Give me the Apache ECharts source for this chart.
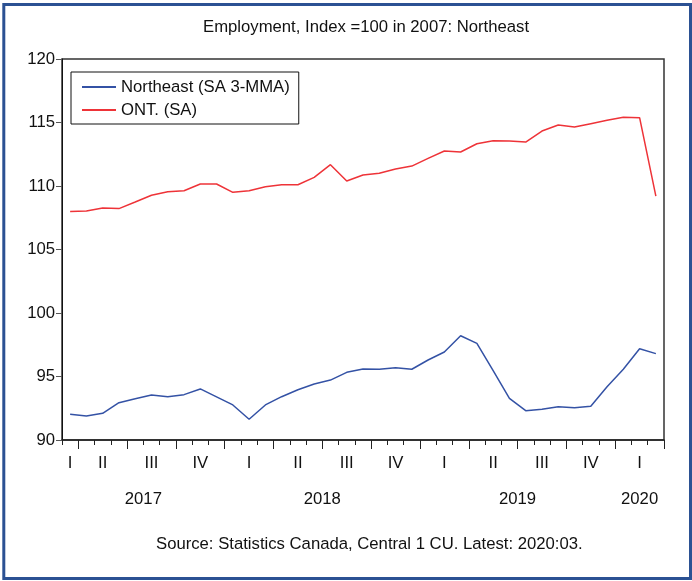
<!DOCTYPE html>
<html>
<head>
<meta charset="utf-8">
<script src="https://cdn.jsdelivr.net/npm/echarts@6/dist/echarts.min.js"></script>
<style>
  html, body { margin: 0; padding: 0; background: #fff; }
  #chart { width: 692px; height: 581px; }
</style>
</head>
<body>
<div id="chart"></div>
<script>
// Monthly observations, 2017:03 to 2020:03
const months = [
  '2017:03', '2017:04', '2017:05', '2017:06', '2017:07', '2017:08', '2017:09', '2017:10', '2017:11', '2017:12',
  '2018:01', '2018:02', '2018:03', '2018:04', '2018:05', '2018:06', '2018:07', '2018:08', '2018:09', '2018:10', '2018:11', '2018:12',
  '2019:01', '2019:02', '2019:03', '2019:04', '2019:05', '2019:06', '2019:07', '2019:08', '2019:09', '2019:10', '2019:11', '2019:12',
  '2020:01', '2020:02', '2020:03'
];

// Employment index, 2007 = 100
const northeast = [
  92.02, 91.89, 92.10, 92.94, 93.25, 93.54, 93.41, 93.57, 94.02, 93.40,
  92.76, 91.63, 92.76, 93.41, 93.96, 94.41, 94.72, 95.33, 95.59, 95.57, 95.69, 95.57,
  96.30, 96.93, 98.21, 97.61, 95.46, 93.28, 92.31, 92.42, 92.62, 92.54, 92.65, 94.20,
  95.57, 97.19, 96.80
];
const ontario = [
  108.00, 108.03, 108.27, 108.22, 108.74, 109.27, 109.55, 109.63, 110.16, 110.16,
  109.50, 109.63, 109.94, 110.10, 110.10, 110.68, 111.68, 110.39, 110.87, 111.00, 111.34, 111.57,
  112.18, 112.76, 112.68, 113.33, 113.57, 113.54, 113.46, 114.33, 114.80, 114.65, 114.91, 115.17,
  115.41, 115.38, 109.21
];

const seriesNames = ['Northeast (SA 3-MMA)', 'ONT. (SA)'];
const quarterNames = ['I', 'II', 'III', 'IV'];
const yRange = { min: 90, max: 120, interval: 5 };

const FONT = '"Liberation Sans", Arial, sans-serif';
const FS = 16.7;

// Quarter of a "YYYY:MM" category
const monthOf = (c) => parseInt(c.split(':')[1], 10);
const quarterOf = (c) => Math.ceil(monthOf(c) / 3);

// Year labels: a half-month grid of points running from the first to the
// last month boundary; each year's name goes in the middle of its months.
const yearSpans = [];
months.forEach((c, i) => {
  const y = c.split(':')[0];
  const last = yearSpans[yearSpans.length - 1];
  if (last && last.year === y) last.end = i;
  else yearSpans.push({ year: y, start: i, end: i });
});
const halfSlots = new Array(months.length * 2 + 1).fill('');
yearSpans.forEach(s => { halfSlots[s.start + s.end + 1] = s.year; });

const chart = echarts.init(document.getElementById('chart'), null, { renderer: 'canvas' });

chart.setOption({
  animation: false,
  backgroundColor: '#fff',
  textStyle: { fontFamily: FONT },
  title: [
    {
      text: 'Employment, Index =100 in 2007: Northeast',
      left: 198, top: 14,
      textStyle: { fontFamily: FONT, fontSize: FS, fontWeight: 'normal', color: '#111' }
    },
    {
      text: 'Source: Statistics Canada, Central 1 CU. Latest: 2020:03.',
      left: 151, top: 531,
      textStyle: { fontFamily: FONT, fontSize: FS, fontWeight: 'normal', color: '#111' }
    }
  ],
  graphic: [
    {
      type: 'rect', silent: true, z: 100,
      shape: { x: 3.8, y: 4.6, width: 686.7, height: 573.9 },
      style: { fill: null, stroke: '#2B5193', lineWidth: 3 }
    }
  ],
  legend: {
    show: true,
    orient: 'vertical',
    left: 71, top: 72,
    padding: [5, 9, 4, 10],
    itemGap: 3,
    itemWidth: 34, itemHeight: 14,
    borderColor: '#111', borderWidth: 1,
    backgroundColor: '#fff',
    itemStyle: { opacity: 0 },
    textStyle: { fontFamily: FONT, fontSize: FS, color: '#111', lineHeight: 20 },
    data: seriesNames
  },
  grid: {
    left: 62, top: 59, width: 602, height: 381,
    show: true, borderColor: '#333', borderWidth: 1.5,
    containLabel: false
  },
  xAxis: [
    {
      // monthly ticks
      type: 'category', data: months, boundaryGap: true, position: 'bottom',
      axisLine: { show: true, lineStyle: { color: '#222', width: 1.5 } },
      axisTick: { show: true, interval: 0, length: 5, lineStyle: { color: '#222', width: 1 } },
      axisLabel: { show: false },
      splitLine: { show: false }
    },
    {
      // quarter ticks and labels
      type: 'category', data: months, boundaryGap: true, position: 'bottom',
      axisLine: { show: false },
      axisTick: {
        show: true, length: 9,
        interval: (i) => i % 3 === 1,
        lineStyle: { color: '#222', width: 1 }
      },
      axisLabel: {
        show: true, margin: 15,
        interval: (i) => i === 0 || i % 3 === 2,
        formatter: (v) => quarterNames[quarterOf(v) - 1],
        fontFamily: FONT, fontSize: FS, color: '#111'
      },
      splitLine: { show: false }
    },
    {
      // year labels
      type: 'category', data: halfSlots, boundaryGap: false, position: 'bottom',
      axisLine: { show: false },
      axisTick: { show: false },
      splitLine: { show: false },
      axisLabel: {
        show: true, margin: 51, interval: 0,
        fontFamily: FONT, fontSize: FS, color: '#111'
      }
    }
  ],
  yAxis: {
    type: 'value', min: yRange.min, max: yRange.max, interval: yRange.interval,
    axisLine: { show: true, lineStyle: { color: '#111', width: 1 } },
    axisTick: { show: true, length: 6, lineStyle: { color: '#555', width: 1 } },
    axisLabel: { margin: 7, fontFamily: FONT, fontSize: FS, color: '#111' },
    splitLine: { show: false }
  },
  series: [
    {
      name: seriesNames[0], type: 'line', data: northeast,
      xAxisIndex: 0, symbol: 'none', smooth: false,
      lineStyle: { color: '#3452A5', width: 1.5 }, itemStyle: { color: '#3452A5' }
    },
    {
      name: seriesNames[1], type: 'line', data: ontario,
      xAxisIndex: 0, symbol: 'none', smooth: false,
      lineStyle: { color: '#EE3338', width: 1.5 }, itemStyle: { color: '#EE3338' }
    }
  ]
});
</script>
</body>
</html>
